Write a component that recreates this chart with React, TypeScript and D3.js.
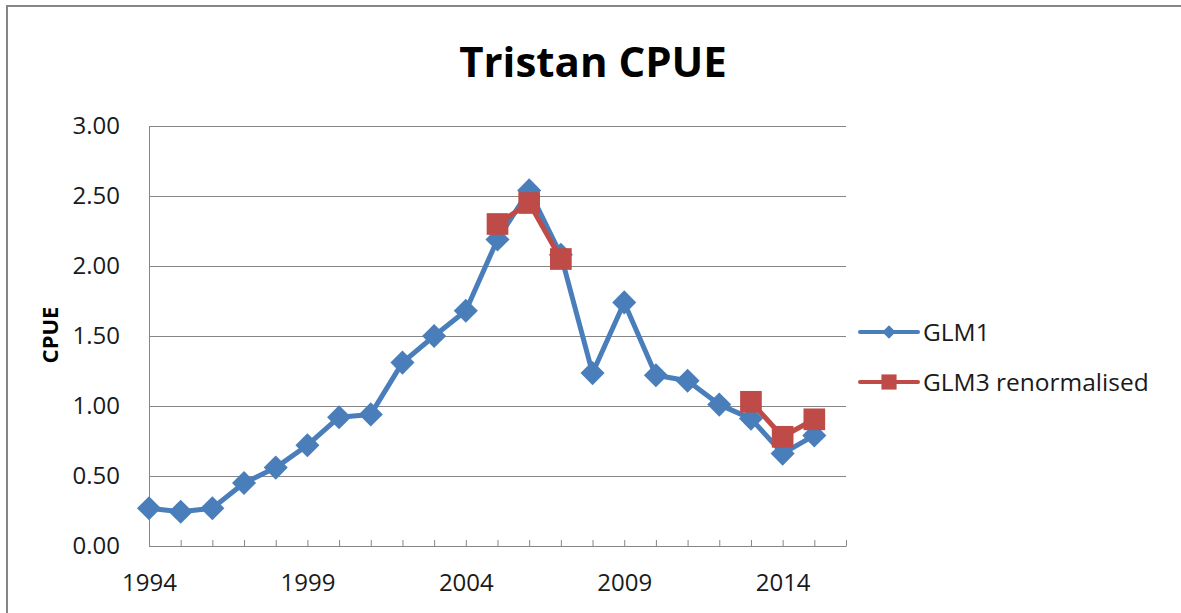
import { useEffect, useRef } from 'react';
import * as d3 from 'd3';

const years = d3.range(1994, 2016);
const glm1 = [
  0.27, 0.245, 0.27, 0.45, 0.56, 0.72, 0.92, 0.94, 1.31, 1.5, 1.68,
  2.19, 2.54, 2.08, 1.235, 1.74, 1.22, 1.18, 1.01, 0.91, 0.66, 0.79,
];
const glm3: (number | null)[] = [
  null, null, null, null, null, null, null, null, null, null, null,
  2.3, 2.45, 2.05, null, null, null, null, null, 1.03, 0.78, 0.905,
];
const yTicks = [0, 0.5, 1, 1.5, 2, 2.5, 3];
const xLabels = [1994, 1999, 2004, 2009, 2014];
const seriesNames = ['GLM1', 'GLM3 renormalised'];

const BLUE = '#4a7ebb';
const RED = '#be4b48';
const GRID = '#868686';
const FONT = '"Open Sans", sans-serif';

export default function App() {
  const svgRef = useRef<SVGSVGElement>(null);

  useEffect(() => {
    if (!svgRef.current) return;
    const width = 1181;
    const height = 613;
    const margin = { top: 126, left: 149 };
    const innerWidth = 846 - 149;
    const innerHeight = 546 - 126;

    const svg = d3.select(svgRef.current);
    svg.selectAll('*').remove();
    svg.attr('width', width).attr('height', height);

    // outer frame
    svg.append('rect')
      .attr('x', 7).attr('y', 6)
      .attr('width', 1300).attr('height', 800)
      .attr('fill', '#fff')
      .attr('stroke', GRID)
      .attr('stroke-width', 2);

    const x = d3.scaleLinear().domain([1994, 2016]).range([0, innerWidth]);
    const y = d3.scaleLinear().domain([0, 3]).range([innerHeight, 0]);

    const g = svg.append('g')
      .attr('transform', `translate(${margin.left},${margin.top})`);

    // Y axis + grid
    const yAxis = g.append('g')
      .call(
        d3.axisLeft(y)
          .tickValues(yTicks)
          .tickFormat(d3.format('.2f'))
          .tickSizeInner(-innerWidth)
          .tickSizeOuter(0)
          .tickPadding(29)
      );
    yAxis.selectAll('line').attr('stroke', GRID);
    yAxis.select('.domain').attr('stroke', GRID);
    yAxis.selectAll('text')
      .attr('font-family', FONT)
      .attr('font-size', 24)
      .attr('fill', '#1a1a1a');

    // X axis
    const xAxis = g.append('g')
      .attr('transform', `translate(0,${innerHeight})`)
      .call(
        d3.axisBottom(x)
          .tickValues(d3.range(1994, 2017))
          .tickFormat((d) => (xLabels.includes(d as number) ? `${d}` : ''))
          .tickSizeInner(-6)
          .tickSizeOuter(0)
          .tickPadding(28)
      );
    xAxis.selectAll('line').attr('stroke', GRID);
    xAxis.select('.domain').attr('stroke', GRID);
    xAxis.selectAll('text')
      .attr('font-family', FONT)
      .attr('font-size', 24)
      .attr('fill', '#1a1a1a');

    const diamond = d3.symbol(d3.symbolSquare, 290);
    const square = d3.symbol(d3.symbolSquare, 470);

    // GLM1
    const line1 = d3.line<number>()
      .x((_, i) => x(years[i]))
      .y((d) => y(d));
    g.append('path')
      .datum(glm1)
      .attr('fill', 'none')
      .attr('stroke', BLUE)
      .attr('stroke-width', 5)
      .attr('stroke-linejoin', 'round')
      .attr('d', line1);
    g.selectAll('.m1')
      .data(glm1)
      .join('path')
      .attr('class', 'm1')
      .attr('d', diamond)
      .attr('fill', BLUE)
      .attr('transform', (d, i) => `translate(${x(years[i])},${y(d)}) rotate(45)`);

    // GLM3 renormalised
    const line3 = d3.line<number | null>()
      .defined((d) => d != null)
      .x((_, i) => x(years[i]))
      .y((d) => y(d as number));
    g.append('path')
      .datum(glm3)
      .attr('fill', 'none')
      .attr('stroke', RED)
      .attr('stroke-width', 5)
      .attr('stroke-linejoin', 'round')
      .attr('d', line3);
    g.selectAll('.m3')
      .data(glm3.map((v, i) => ({ v, yr: years[i] })).filter((d) => d.v != null))
      .join('path')
      .attr('class', 'm3')
      .attr('d', square)
      .attr('fill', RED)
      .attr('transform', (d) => `translate(${x(d.yr)},${y(d.v as number)})`);

    // Title
    svg.append('text')
      .attr('x', 593).attr('y', 77)
      .attr('text-anchor', 'middle')
      .attr('font-family', FONT)
      .attr('font-weight', 'bold')
      .attr('font-size', 42)
      .attr('fill', '#000')
      .text('Tristan CPUE');

    // Y axis title
    svg.append('text')
      .attr('transform', 'translate(50,335) rotate(-90)')
      .attr('text-anchor', 'middle')
      .attr('dy', '0.35em')
      .attr('font-family', FONT)
      .attr('font-weight', 'bold')
      .attr('font-size', 22)
      .attr('fill', '#000')
      .text('CPUE');

    // Legend
    const legend = svg.append('g');
    const colors = [BLUE, RED];
    seriesNames.forEach((name, i) => {
      const ly = 332 + i * 50;
      const row = legend.append('g').attr('transform', `translate(0,${ly})`);
      row.append('line')
        .attr('x1', 860).attr('x2', 918)
        .attr('stroke', colors[i])
        .attr('stroke-width', 4)
        .attr('stroke-linecap', 'round');
      row.append('path')
        .attr('d', i === 0 ? d3.symbol(d3.symbolSquare, 90)() : d3.symbol(d3.symbolSquare, 230)())
        .attr('fill', colors[i])
        .attr('transform', `translate(889,0)${i === 0 ? ' rotate(45)' : ''}`);
      row.append('text')
        .attr('x', 923)
        .attr('dy', '0.35em')
        .attr('font-family', FONT)
        .attr('font-size', 24.5)
        .attr('fill', '#1a1a1a')
        .text(name);
    });
  }, []);

  return (
    <div style={{ position: 'absolute', left: 0, top: 0, width: 1181, height: 613, overflow: 'hidden', background: '#fff' }}>
      <svg ref={svgRef} style={{ display: 'block' }} />
    </div>
  );
}
